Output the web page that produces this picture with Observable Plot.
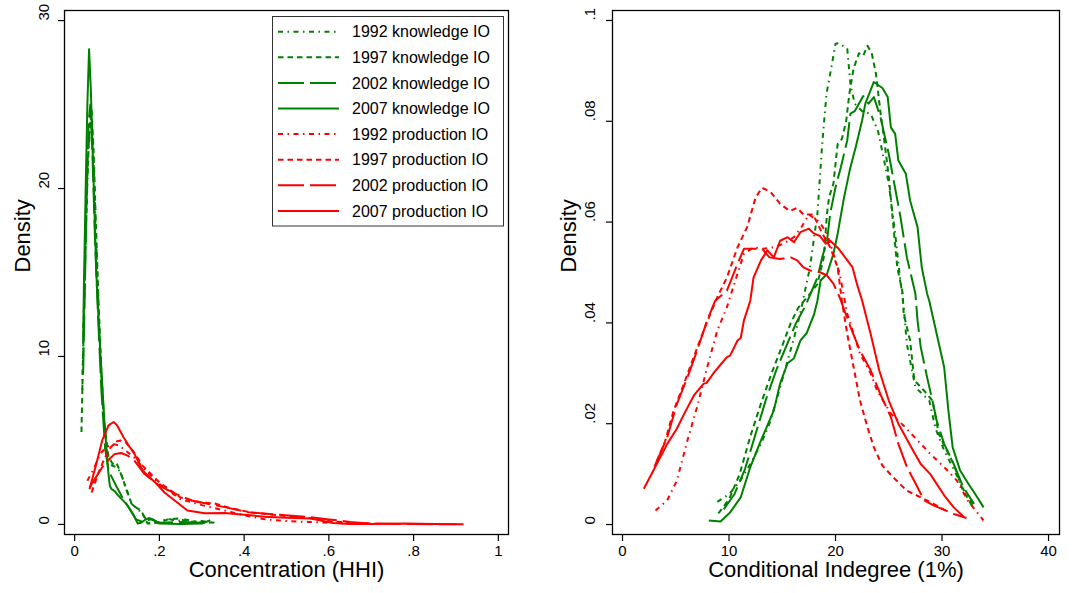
<!DOCTYPE html>
<html><head><meta charset="utf-8">
<script src="https://cdn.jsdelivr.net/npm/d3@7"></script>
<script src="https://cdn.jsdelivr.net/npm/@observablehq/plot@0.6"></script>
<style>
body{margin:0;background:#fff;}
#wrap{position:relative;width:1077px;height:593px;display:flex;overflow:hidden;}
svg{font-family:"Liberation Sans",Arial,sans-serif;}
</style></head><body><div id="wrap"></div>
<script>
// ---------- tick labels ----------
const hhiTicksX = [0, 0.2, 0.4, 0.6, 0.8, 1];
const hhiTicksY = [0, 10, 20, 30];
const indTicksX = [0, 10, 20, 30, 40];
const indTicksY = [0, 0.02, 0.04, 0.06, 0.08, 0.1];
const hhiTitleX = "Concentration (HHI)";
const indTitleX = "Conditional Indegree (1%)";
const titleY = "Density";
const seriesNames = ["1992 knowledge IO","1997 knowledge IO","2002 knowledge IO","2007 knowledge IO",
  "1992 production IO","1997 production IO","2002 production IO","2007 production IO"];

// ---------- left panel: HHI densities [x, density] ----------
const hhiK1992 = [[0.018,8],[0.021,12],[0.026,17],[0.032,22],[0.038,24.2],[0.043,23],[0.048,19],[0.054,14.5],[0.061,10],[0.068,6.5],[0.077,4.2],[0.088,3.5],[0.1,3.4],[0.11,3.0],[0.12,2.2],[0.135,1.2],[0.15,0.9],[0.16,0.6],[0.175,0.1],[0.2,0.15],[0.22,0.35],[0.24,0.2],[0.26,0.3],[0.3,0.1],[0.33,0.1]];
const hhiK1997 = [[0.016,5.5],[0.019,9],[0.024,15],[0.03,21],[0.036,24],[0.04,24.7],[0.045,22],[0.05,18],[0.056,13.5],[0.063,9],[0.07,6],[0.08,4],[0.09,3.6],[0.098,3.7],[0.105,3.3],[0.118,2.4],[0.134,1.25],[0.145,1.0],[0.157,0.83],[0.172,0.05],[0.2,0.1],[0.22,0.3],[0.243,0.35],[0.27,0.15],[0.3,0.2],[0.33,0.1]];
const hhiK2002 = [[0.02,9],[0.024,14],[0.028,19],[0.033,24],[0.037,25],[0.042,22],[0.048,17],[0.055,12.5],[0.063,8],[0.072,4.5],[0.08,3.2],[0.09,2.7],[0.1,2.2],[0.115,1.5],[0.13,0.9],[0.145,0.3],[0.16,0.15],[0.18,0.3],[0.2,0.1],[0.25,0.15],[0.3,0.1],[0.32,0.15]];
const hhiK2007 = [[0.02,11],[0.022,14.5],[0.026,20],[0.03,25],[0.034,28.3],[0.038,26],[0.044,21],[0.051,15],[0.06,10.5],[0.07,6.2],[0.079,3.2],[0.083,2.3],[0.087,2.1],[0.094,2.0],[0.1,1.8],[0.114,1.43],[0.125,1.13],[0.137,0.65],[0.149,0.05],[0.157,0.1],[0.165,0.25],[0.175,0.38],[0.185,0.3],[0.2,0.05],[0.25,0.02],[0.3,0.05],[0.32,0.25]];
const hhiP1992 = [[0.03,2.6],[0.045,3.3],[0.06,4.2],[0.075,4.6],[0.09,4.8],[0.105,4.7],[0.12,4.4],[0.14,4.0],[0.16,3.4],[0.2,2.4],[0.25,1.5],[0.3,1.15],[0.35,0.85],[0.4,0.55],[0.45,0.3],[0.5,0.2],[0.55,0.15],[0.6,0.1],[0.65,0.05],[0.7,0.03]];
const hhiP1997 = [[0.04,1.9],[0.055,3.0],[0.07,3.9],[0.085,4.6],[0.1,4.95],[0.108,5.0],[0.12,4.9],[0.14,4.3],[0.16,3.5],[0.2,2.5],[0.25,1.6],[0.3,1.3],[0.33,1.25],[0.37,0.95],[0.42,0.7],[0.5,0.5],[0.55,0.4],[0.6,0.2],[0.65,0.1],[0.7,0.05]];
const hhiP2002 = [[0.035,2.2],[0.05,2.8],[0.065,3.4],[0.078,3.8],[0.095,4.2],[0.11,4.25],[0.125,4.1],[0.141,3.8],[0.165,3.0],[0.2,2.3],[0.24,1.8],[0.275,1.43],[0.32,1.2],[0.36,1.0],[0.41,0.73],[0.47,0.6],[0.55,0.45],[0.6,0.3],[0.65,0.15],[0.7,0.05],[0.8,0.02],[0.9,0.01]];
const hhiP2007 = [[0.035,2.1],[0.05,3.5],[0.065,5.0],[0.08,5.9],[0.092,6.1],[0.1,5.9],[0.115,5.2],[0.13,4.6],[0.141,4.2],[0.161,3.2],[0.19,2.5],[0.212,1.9],[0.24,1.35],[0.266,0.83],[0.307,0.66],[0.354,0.68],[0.4,0.58],[0.448,0.46],[0.5,0.4],[0.557,0.35],[0.61,0.08],[0.65,0.02],[0.7,0.03],[0.78,0.05],[0.85,0.02],[0.918,0.01]];

// ---------- right panel: conditional indegree densities [x, density] ----------
const indK1992 = [[8.9,0.0045],[10,0.006],[11,0.0085],[12,0.012],[13,0.016],[13.8,0.02],[14.5,0.025],[15.3,0.031],[16.1,0.037],[16.7,0.042],[17.1,0.046],[17.6,0.051],[18.3,0.0617],[18.75,0.0755],[19.15,0.0854],[19.5,0.0894],[20.0,0.0954],[20.3,0.0955],[21.1,0.0944],[21.4,0.0874],[21.8,0.0835],[22.5,0.082],[23.3,0.0815],[24,0.078],[24.5,0.0729],[25.0,0.0676],[25.6,0.0577],[26.0,0.05],[26.4,0.0431],[26.7,0.0358],[27.5,0.0272],[28.8,0.0246],[29.4,0.019],[30.2,0.0147],[31.3,0.0101],[32.2,0.0061],[33.0,0.0038]];
const indK1997 = [[9.0,0.0022],[10,0.005],[11,0.01],[12,0.0175],[13,0.024],[14,0.03],[15,0.0355],[15.8,0.04],[16.5,0.043],[17.3,0.045],[18.3,0.0477],[18.9,0.053],[19.2,0.0617],[19.4,0.065],[19.8,0.0676],[20.2,0.0755],[20.6,0.0765],[21.0,0.08],[21.3,0.0855],[21.7,0.0905],[22.2,0.0935],[22.6,0.093],[23.0,0.095],[23.4,0.0935],[23.8,0.0894],[24.2,0.0821],[24.5,0.0775],[25.0,0.069],[25.5,0.0577],[25.8,0.051],[26.3,0.046],[26.4,0.0418],[27.0,0.0365],[27.4,0.0286],[28.3,0.0266],[29.1,0.0246],[29.7,0.018],[30.3,0.0153],[31.1,0.012],[31.9,0.0071],[32.7,0.0041],[33.0,0.0034]];
const indK2002 = [[9.5,0.003],[10.5,0.006],[11.5,0.011],[12.5,0.018],[13.5,0.025],[14.5,0.031],[15.5,0.036],[16.3,0.04],[17.2,0.0435],[18.3,0.049],[18.75,0.053],[19.2,0.0563],[19.5,0.0617],[20.0,0.0669],[20.5,0.0709],[21.1,0.0762],[21.4,0.0815],[21.8,0.082],[22.6,0.085],[23.1,0.0835],[23.6,0.0848],[24.2,0.081],[25.0,0.0735],[26.1,0.061],[26.7,0.053],[27.5,0.0458],[27.7,0.0405],[28.0,0.0352],[28.6,0.0292],[29.1,0.0246],[29.5,0.0206],[30.2,0.016],[31.1,0.012],[32.0,0.0074],[33.0,0.0041]];
const indK2007 = [[8.1,0.0008],[9.2,0.0006],[10.1,0.0024],[11.1,0.0054],[12.0,0.0114],[13.0,0.0167],[14.2,0.0226],[14.8,0.028],[15.5,0.032],[16.1,0.033],[16.7,0.0365],[17.3,0.038],[18.0,0.0418],[18.3,0.0444],[18.6,0.0484],[19.2,0.0497],[19.8,0.0537],[20.2,0.0577],[20.8,0.0649],[21.4,0.0709],[21.9,0.0749],[22.5,0.0802],[22.8,0.0835],[23.6,0.0878],[24.4,0.0866],[24.9,0.0848],[25.2,0.0788],[25.6,0.0775],[25.9,0.0722],[26.6,0.0696],[27.0,0.0643],[27.7,0.059],[28.1,0.051],[28.6,0.0458],[28.8,0.0444],[29.5,0.0378],[30.2,0.0312],[30.6,0.0226],[31.0,0.0153],[31.7,0.0107],[32.5,0.008],[33.1,0.0061],[33.9,0.0034]];
const indP1992 = [[3.1,0.0028],[4.2,0.0048],[5.1,0.0087],[6.1,0.0167],[7.0,0.0233],[7.95,0.0312],[8.9,0.0385],[9.8,0.0431],[10.5,0.0478],[11.4,0.0537],[12.3,0.055],[13.2,0.0547],[14.2,0.055],[15.1,0.0557],[16.1,0.057],[16.8,0.059],[17.5,0.0615],[18.5,0.06],[19.2,0.0577],[19.8,0.0537],[20.4,0.0497],[21.1,0.0418],[22.3,0.0339],[23.3,0.03],[23.9,0.0266],[25.2,0.022],[26.4,0.0196],[27.7,0.0167],[28.9,0.014],[30.2,0.0114],[31.4,0.0087],[32.4,0.0048],[33.9,0.0008]];
const indP1997 = [[3.2,0.0125],[4.0,0.0165],[4.8,0.0226],[5.6,0.027],[6.3,0.031],[7.0,0.035],[7.9,0.04],[8.9,0.0451],[9.8,0.049],[10.8,0.055],[11.7,0.059],[12.5,0.0649],[13.1,0.0668],[13.9,0.066],[14.8,0.0636],[15.7,0.0622],[16.4,0.0628],[17.0,0.0615],[17.9,0.0615],[18.7,0.058],[19.5,0.055],[20.2,0.051],[20.6,0.0444],[21.1,0.0378],[21.7,0.0312],[22.3,0.0246],[23.0,0.0193],[23.6,0.0153],[24.4,0.0117],[25.4,0.0094],[26.7,0.0067],[28.0,0.0054],[29.2,0.0041],[30.3,0.0028]];
const indP2002 = [[3.0,0.0115],[4.2,0.0173],[5.1,0.0239],[6.1,0.0292],[7.0,0.0345],[7.95,0.0405],[8.7,0.0444],[9.8,0.0464],[10.8,0.0517],[11.4,0.0547],[12.3,0.0547],[13.1,0.0547],[13.8,0.053],[14.8,0.0527],[15.8,0.053],[16.4,0.0524],[17.0,0.051],[17.6,0.0504],[18.4,0.0502],[19.2,0.0494],[19.8,0.0478],[20.4,0.045],[21.4,0.0392],[22.3,0.0345],[23.3,0.0306],[24.2,0.0259],[25.2,0.0213],[25.9,0.016],[26.7,0.0114],[27.7,0.0074],[28.3,0.0048],[29.2,0.0038],[31.1,0.0021],[32.3,0.0013]];
const indP2007 = [[2.0,0.0071],[2.9,0.0107],[4.2,0.016],[5.1,0.019],[5.8,0.022],[6.7,0.0256],[7.6,0.0279],[7.9,0.0281],[8.6,0.0302],[9.2,0.0317],[9.8,0.0332],[10.1,0.0335],[10.8,0.0365],[11.1,0.037],[11.4,0.0405],[12.0,0.0444],[12.3,0.049],[13.0,0.0524],[13.6,0.0544],[14.2,0.053],[14.8,0.0563],[15.5,0.057],[16.1,0.056],[16.7,0.058],[17.5,0.0587],[18.0,0.0577],[18.5,0.0573],[19.1,0.0557],[19.5,0.0563],[20.3,0.0547],[20.9,0.053],[21.6,0.051],[22.0,0.0478],[22.5,0.0444],[23.3,0.0378],[24.1,0.0306],[25.0,0.0246],[25.9,0.02],[27.2,0.015],[28.0,0.012],[28.9,0.01],[30.2,0.0058],[31.1,0.0034],[32.0,0.0016]];

// ---------- styles ----------
const GREEN = "#008000", RED = "#ff0000";
const DASHES = ["5,4.5,1.5,4.5", "5.5,4", "26,6", null];
const styleOf = i => ({stroke: i < 4 ? GREEN : RED, dash: DASHES[i % 4]});
const fmt = d => d === 0 ? "0" : (Math.abs(d) < 1 ? String(+d.toFixed(4)).replace(/^0\./, ".") : String(d));
const FONT = "Liberation Sans, Arial, Helvetica, sans-serif";

function panel({series, ticksX, ticksY, xDomain, yDomain, width, marginLeft, marginRight, titleX, yLabelDx, yTitleDx}) {
  const lines = series.map((data, i) => {
    const s = styleOf(i);
    return Plot.line(data, {x: d => d[0], y: d => d[1], stroke: s.stroke, strokeWidth: 2,
      strokeDasharray: s.dash || undefined, strokeLinecap: "butt", strokeLinejoin: "round"});
  });
  return Plot.plot({
    width, height: 593, marginLeft, marginRight, marginTop: 10, marginBottom: 59,
    style: {background: "white", fontFamily: FONT, color: "#000", overflow: "visible"},
    x: {domain: xDomain}, y: {domain: yDomain},
    marks: [
      ...lines,
      Plot.frame({stroke: "#000", strokeWidth: 1.3}),
      Plot.axisX({ticks: ticksX, tickFormat: fmt, tickSize: 7, tickPadding: 4, fontSize: 15, label: null, strokeWidth: 1.2}),
      Plot.axisY({ticks: ticksY, tickFormat: () => "", tickSize: 6, label: null, strokeWidth: 1.2}),
      Plot.text(ticksY, {y: d => d, text: d => fmt(d), frameAnchor: "left", rotate: -90, dx: yLabelDx, fontSize: 15, fill: "#000"}),
      Plot.text([titleX], {text: d => d, frameAnchor: "bottom", dy: 42, fontSize: 22, fill: "#000"}),
      Plot.text([titleY], {text: d => d, frameAnchor: "left", rotate: -90, dx: yTitleDx, fontSize: 22, fill: "#000"})
    ]
  });
}

const left = panel({
  series: [hhiK1992, hhiK1997, hhiK2002, hhiK2007, hhiP1992, hhiP1997, hhiP2002, hhiP2007],
  ticksX: hhiTicksX, ticksY: hhiTicksY, xDomain: [-0.024, 1.024], yDomain: [-0.6, 30.6],
  width: 540, marginLeft: 64, marginRight: 32, titleX: hhiTitleX, yLabelDx: -20, yTitleDx: -42
});
const right = panel({
  series: [indK1992, indK1997, indK2002, indK2007, indP1992, indP1997, indP2002, indP2007],
  ticksX: indTicksX, ticksY: indTicksY, xDomain: [-0.94, 41.03], yDomain: [-0.00198, 0.10198],
  width: 537, marginLeft: 72, marginRight: 18, titleX: indTitleX, yLabelDx: -22, yTitleDx: -44
});
const wrap = document.getElementById("wrap");
wrap.appendChild(left);
wrap.appendChild(right);

// ---------- legend inside the left panel ----------
const lg = d3.select(left).append("g").attr("font-family", FONT).attr("text-anchor", "start");
lg.append("rect").attr("x", 272.5).attr("y", 16.5).attr("width", 231).attr("height", 209.5)
  .attr("fill", "white").attr("stroke", "#333").attr("stroke-width", 1);
seriesNames.forEach((name, i) => {
  const s = styleOf(i);
  const y = 31.7 + i * 25.6;
  const ln = lg.append("line").attr("x1", 278).attr("x2", 339).attr("y1", y).attr("y2", y)
    .attr("stroke", s.stroke).attr("stroke-width", 2).attr("stroke-linecap", "butt");
  if (s.dash) ln.attr("stroke-dasharray", s.dash);
  lg.append("text").attr("x", 352).attr("y", y).attr("dy", "0.35em").attr("font-size", 16)
    .attr("text-anchor", "start").attr("fill", "#000").text(name);
});
</script></body></html>
